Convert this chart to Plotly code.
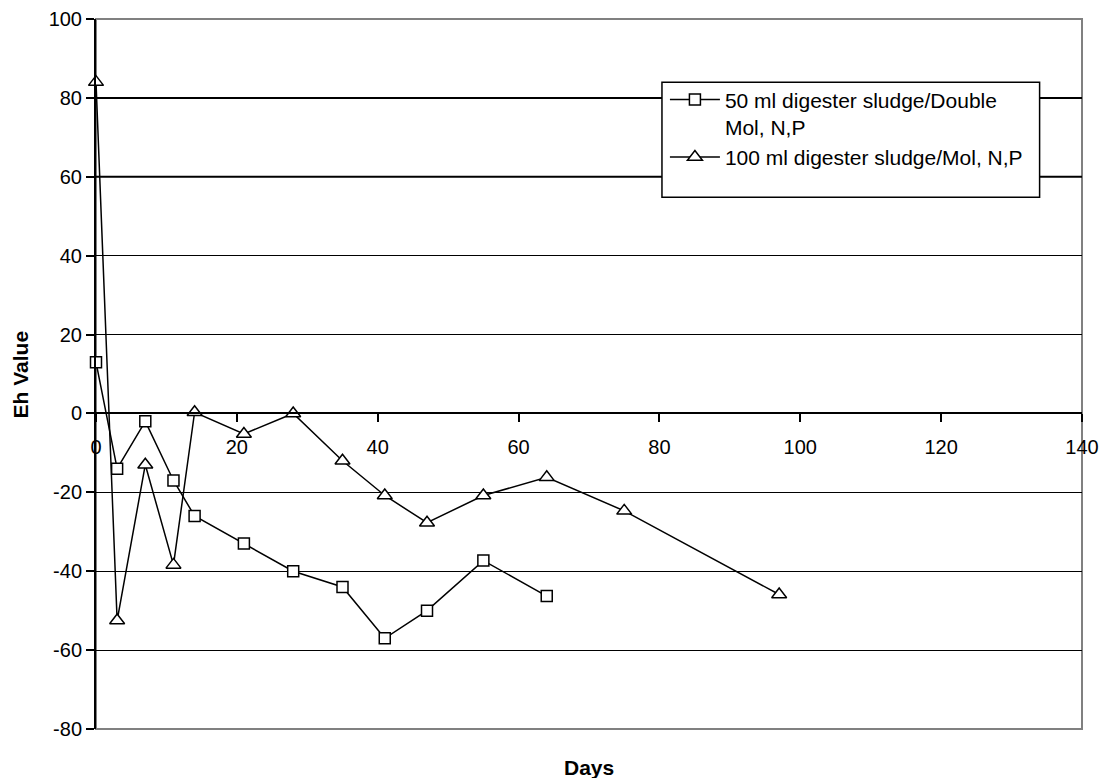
import plotly.graph_objects as go

# Data
days_50ml = [0, 3, 7, 11, 14, 21, 28, 35, 41, 47, 55, 64]
eh_50ml = [13, -14, -2, -17, -26, -33, -40, -44, -57, -50, -37.3, -46.3]

days_100ml = [0, 3, 7, 11, 14, 21, 28, 35, 41, 47, 55, 64, 75, 97]
eh_100ml = [84, -52.5, -13, -38.4, 0.3, -5.2, 0, -12, -20.8, -27.7, -20.8, -16.2, -24.7, -45.9]

series_names = ["50 ml digester sludge/Double<br>Mol, N,P",
                "100 ml digester sludge/Mol, N,P"]

x_range = [0, 140]
y_range = [-80, 100]
x_ticks = [0, 20, 40, 60, 80, 100, 120, 140]
x_tick_labels = ["0", "20", "40", "60", "80", "100", "120", "140"]
y_ticks = [-80, -60, -40, -20, 0, 20, 40, 60, 80, 100]
y_tick_labels = ["-80", "-60", "-40", "-20", "0", "20", "40", "60", "80", "100"]
heavy_gridlines = [80, 60]

FONT = "Arial, Liberation Sans, sans-serif"

fig = go.Figure()
fig.add_trace(go.Scatter(
    x=days_50ml, y=eh_50ml, name=series_names[0], mode="lines+markers",
    line=dict(color="black", width=1.5),
    marker=dict(symbol="square", size=11, color="white",
                line=dict(color="black", width=1.5)),
    cliponaxis=False,
))
fig.add_trace(go.Scatter(
    x=days_100ml, y=eh_100ml, name=series_names[1], mode="lines+markers",
    line=dict(color="black", width=1.5),
    marker=dict(symbol="triangle-up", size=13, color="white",
                line=dict(color="black", width=1.5)),
    cliponaxis=False,
))

# x axis crosses at y = 0
x_cross = (0 - y_range[0]) / (y_range[1] - y_range[0])

shapes = [
    dict(type="rect", xref="paper", yref="paper", x0=0, x1=1, y0=0, y1=1,
         line=dict(color="#808080", width=2), layer="below"),
]
for gv in heavy_gridlines:
    shapes.append(dict(type="line", xref="paper", yref="y", x0=0, x1=1, y0=gv, y1=gv,
                       line=dict(color="black", width=2), layer="below"))
# legend frame
shapes.append(dict(type="rect", xref="paper", yref="paper",
                   x0=0.574, x1=0.957, y0=0.749, y1=0.911,
                   line=dict(color="black", width=1.5), fillcolor="white", layer="above"))

fig.update_layout(
    template="none",
    width=1102, height=778,
    margin=dict(l=96, r=20, t=19, b=49, autoexpand=False),
    paper_bgcolor="white", plot_bgcolor="white",
    font=dict(family=FONT, size=20, color="black"),
    showlegend=True,
    legend=dict(
        x=0.577, y=0.915, xanchor="left", yanchor="top",
        bgcolor="rgba(0,0,0,0)", borderwidth=0,
        font=dict(family=FONT, size=21, color="black"),
        itemwidth=50, valign="top", tracegroupgap=2,
    ),
    xaxis=dict(
        range=x_range, tickvals=x_ticks, ticktext=x_tick_labels,
        ticks="outside", ticklen=8, automargin=False,
        tickwidth=1.5, tickcolor="black", showgrid=False, zeroline=False,
        showline=True, linecolor="black", linewidth=2,
        anchor="free", position=x_cross, ticklabelstandoff=8,
        tickfont=dict(size=20, color="black"),
    ),
    yaxis=dict(
        range=y_range, tickvals=y_ticks, ticktext=y_tick_labels,
        ticks="outside", ticklen=8, automargin=False,
        tickwidth=1.5, tickcolor="black", showgrid=True, gridcolor="black",
        gridwidth=1, zeroline=False, showline=True, linecolor="black",
        linewidth=2, tickfont=dict(size=20, color="black"),
    ),
    shapes=shapes,
    annotations=[
        dict(text="<b>Days</b>", xref="paper", yref="paper", x=0.5, y=-0.054,
             xanchor="center", yanchor="middle", showarrow=False,
             font=dict(size=21, family=FONT, color="black")),
        dict(text="<b>Eh Value</b>", xref="paper", yref="paper", x=-0.0766, y=0.5,
             xanchor="center", yanchor="middle", textangle=-90, showarrow=False,
             font=dict(size=21, family=FONT, color="black")),
    ],
)

fig.write_html("out.html")
